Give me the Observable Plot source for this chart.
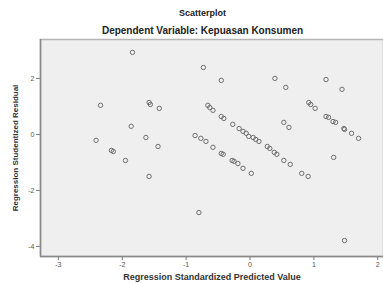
<!DOCTYPE html>
<html>
<head>
<meta charset="utf-8">
<script src="https://cdn.jsdelivr.net/npm/d3@7"></script>
<script src="https://cdn.jsdelivr.net/npm/@observablehq/plot@0.6"></script>
<style>
  body { margin: 0; background: #fff; font-family: "Liberation Sans", Arial, sans-serif; }
  #t1 { height: 21px; line-height: 27px; text-align: center; font-size: 9px; font-weight: bold; color: #222; padding-left: 22px; }
  #t2 { height: 16px; line-height: 20px; text-align: center; font-size: 10px; font-weight: bold; color: #222; padding-left: 22px; }
</style>
</head>
<body>
<div id="t1">Scatterplot</div>
<div id="t2">Dependent Variable: Kepuasan Konsumen</div>
<div id="chart"></div>
<script>
const predicted = [
  -1.84,-2.34,-1.58,-1.56,-1.42,-1.86,-2.41,-1.63,-1.44,-2.17,-2.14,-1.95,-1.58,-0.80,
  -0.73,-0.45,0.39,0.56,1.19,1.44,0.53,0.61,1.31,1.48,
  -0.66,-0.63,-0.58,-0.45,-0.41,-0.27,-0.17,-0.11,-0.06,-0.02,0.05,0.09,0.14,0.27,0.31,0.38,0.42,0.53,0.63,0.81,0.91,
  -0.86,-0.77,-0.69,-0.58,-0.45,-0.42,-0.28,-0.25,-0.19,-0.11,0.02,
  0.92,0.95,1.02,1.19,1.23,1.30,1.34,1.47,1.48,1.59,1.70
];
const residual = [
  2.93,1.04,1.14,1.07,0.93,0.29,-0.21,-0.11,-0.43,-0.57,-0.61,-0.93,-1.50,-2.79,
  2.39,1.93,2.00,1.68,1.96,1.61,0.43,0.25,-0.82,-3.79,
  1.04,0.96,0.86,0.64,0.57,0.36,0.21,0.11,0.04,-0.07,-0.11,-0.18,-0.25,-0.43,-0.50,-0.64,-0.71,-0.93,-1.07,-1.39,-1.50,
  -0.04,-0.14,-0.25,-0.46,-0.68,-0.71,-0.93,-0.96,-1.04,-1.21,-1.39,
  1.14,1.07,0.93,0.64,0.61,0.46,0.43,0.21,0.18,0.04,-0.14
];
const xTicks = [-3, -2, -1, 0, 1, 2];
const yTicks = [2, 0, -2, -4];
const xTitle = "Regression Standardized Predicted Value";
const yTitle = "Regression Studentized Residual";

const data = predicted.map((p, i) => ({p, r: residual[i]}));
const fmt = d => String(d);

const chart = Plot.plot({
  width: 383,
  height: 246,
  marginLeft: 40,
  marginRight: 0,
  marginTop: 2,
  marginBottom: 27,
  style: {fontFamily: "Liberation Sans, Arial, sans-serif", fontSize: "7px", color: "#555", background: "#fff"},
  x: {domain: [-3.28, 2.09], label: null},
  y: {domain: [-4.36, 3.39], label: null},
  marks: [
    Plot.frame({fill: "#efefef", stroke: "#b5b5b5", strokeWidth: 1.5}),
    Plot.axisX({ticks: xTicks, tickFormat: fmt, tickSize: 4, tickPadding: 2, stroke: "#777", fill: "#555", label: null}),
    Plot.axisY({ticks: yTicks, tickFormat: fmt, tickSize: 4, tickPadding: 2, stroke: "#777", fill: "#555", label: null}),
    Plot.ruleX([-3.28], {stroke: "#888", strokeWidth: 1.5}),
    Plot.ruleY([-4.36], {stroke: "#888", strokeWidth: 1.5}),
    Plot.dot(data, {x: "p", y: "r", r: 2.2, stroke: "#6e6e6e", strokeWidth: 1, fill: "none"}),
    Plot.text([xTitle], {frameAnchor: "bottom", dy: 23, textAnchor: "middle", fontWeight: "bold", fontSize: 9, fill: "#333"}),
    Plot.text([yTitle], {frameAnchor: "left", dx: -25, rotate: -90, textAnchor: "middle", fontWeight: "bold", fontSize: 8, fill: "#333"})
  ]
});
document.getElementById("chart").appendChild(chart);
</script>
</body>
</html>
